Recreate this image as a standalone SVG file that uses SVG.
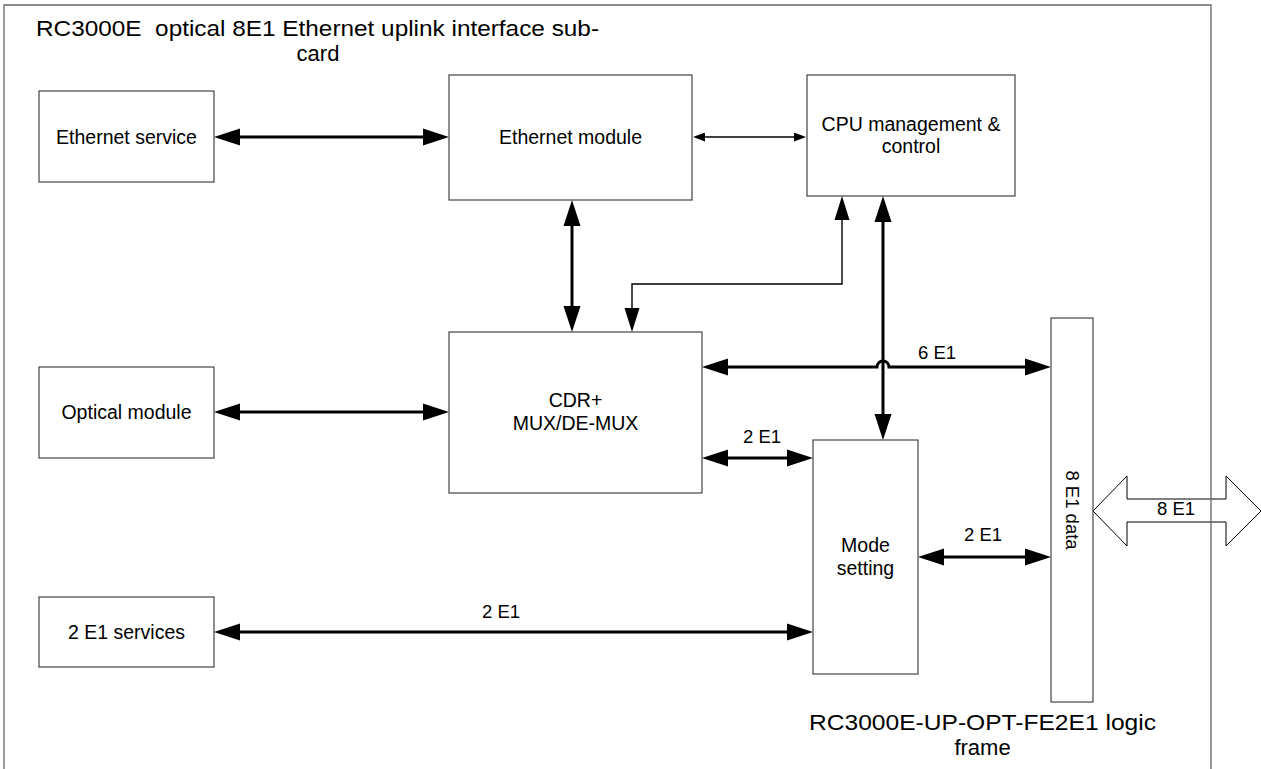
<svg xmlns="http://www.w3.org/2000/svg" width="1261" height="769" viewBox="0 0 1261 769">
<style>
.box{fill:#fff;stroke:#444;stroke-width:1.2}
.t{font-family:"Liberation Sans",Arial,sans-serif;font-size:19.5px;fill:#000;text-anchor:middle}
.big{font-family:"Liberation Sans",Arial,sans-serif;font-size:22px;fill:#000;text-anchor:middle}
.lbl{font-family:"Liberation Sans",Arial,sans-serif;font-size:18.5px;fill:#000;text-anchor:middle}
.thick{fill:none;stroke:#000;stroke-width:3}
.thin{fill:none;stroke:#000;stroke-width:1.4}
</style>
<defs>
<marker id="ah" markerUnits="userSpaceOnUse" markerWidth="26" markerHeight="18" refX="16" refY="8.5" orient="auto-start-reverse" viewBox="0 0 26 17"><path d="M0,0 L26,8.5 L0,17 z" fill="#000"/></marker>
<marker id="ahm" markerUnits="userSpaceOnUse" markerWidth="24" markerHeight="16" refX="18" refY="7.5" orient="auto-start-reverse" viewBox="0 0 24 15"><path d="M0,0 L24,7.5 L0,15 z" fill="#000"/></marker>
<marker id="ahs" markerUnits="userSpaceOnUse" markerWidth="12" markerHeight="9" refX="9" refY="4.5" orient="auto-start-reverse" viewBox="0 0 12 9"><path d="M0,0 L12,4.5 L0,9 z" fill="#000"/></marker>
</defs>
<rect width="1261" height="769" fill="#fff"/>

<g id="bigarrow">
<polygon points="1093,511 1127,476 1127,499 1226,499 1226,476 1261,511 1226,546 1226,522 1127,522 1127,546" fill="none" stroke="#000" stroke-width="1"/>
<text class="lbl" x="1176" y="515">8 E1</text>
</g>

<g id="frame">
<path d="M4,769 V5 H1211 V769" fill="none" stroke="#666" stroke-width="1.3"/>
<text class="big" x="317.5" y="36" xml:space="preserve" textLength="563" lengthAdjust="spacingAndGlyphs">RC3000E  optical 8E1 Ethernet uplink interface sub-</text>
<text class="big" x="318" y="61">card</text>
<text class="big" x="982.5" y="730" textLength="347" lengthAdjust="spacingAndGlyphs">RC3000E-UP-OPT-FE2E1 logic</text>
<text class="big" x="982.5" y="755">frame</text>
</g>

<g id="connectors">
<path class="thick" d="M224,137 H439" marker-start="url(#ah)" marker-end="url(#ah)"/>
<path class="thin" d="M696,137 H803" marker-start="url(#ahs)" marker-end="url(#ahs)"/>
<path class="thick" d="M572,210 V322" marker-start="url(#ah)" marker-end="url(#ah)"/>
<path class="thin" d="M632,326 V284 H842 V202" marker-start="url(#ahm)" marker-end="url(#ahm)"/>
<path class="thick" d="M883,206 V430" marker-start="url(#ah)" marker-end="url(#ah)"/>
<path class="thick" d="M712,367 H877 A6,6 0 0 1 889,367 H1041" marker-start="url(#ah)" marker-end="url(#ah)"/>
<path class="thick" d="M224,412 H439" marker-start="url(#ah)" marker-end="url(#ah)"/>
<path class="thick" d="M712,458 H803" marker-start="url(#ah)" marker-end="url(#ah)"/>
<path class="thick" d="M928,557 H1041" marker-start="url(#ah)" marker-end="url(#ah)"/>
<path class="thick" d="M224,632 H803" marker-start="url(#ah)" marker-end="url(#ah)"/>
<text class="lbl" x="937" y="359">6 E1</text>
<text class="lbl" x="762" y="443">2 E1</text>
<text class="lbl" x="983" y="541">2 E1</text>
<text class="lbl" x="501" y="618">2 E1</text>
</g>

<g id="ethernet-service">
<rect class="box" x="39" y="91" width="175" height="91"/>
<text class="t" x="126.5" y="144">Ethernet service</text>
</g>
<g id="ethernet-module">
<rect class="box" x="449" y="75" width="243" height="125"/>
<text class="t" x="570.5" y="144">Ethernet module</text>
</g>
<g id="cpu">
<rect class="box" x="807" y="75" width="208" height="121"/>
<text class="t" x="911" y="131">CPU management &amp;</text>
<text class="t" x="911" y="153">control</text>
</g>
<g id="optical-module">
<rect class="box" x="39" y="367" width="175" height="91"/>
<text class="t" x="126.5" y="419">Optical module</text>
</g>
<g id="cdr-mux">
<rect class="box" x="449" y="332" width="253" height="161"/>
<text class="t" x="575.5" y="407">CDR+</text>
<text class="t" x="575.5" y="430">MUX/DE-MUX</text>
</g>
<g id="e1-services">
<rect class="box" x="39" y="597" width="175" height="70"/>
<text class="t" x="126.5" y="639">2 E1 services</text>
</g>
<g id="mode-setting">
<rect class="box" x="813" y="440" width="105" height="234"/>
<text class="t" x="865.5" y="552">Mode</text>
<text class="t" x="865.5" y="575">setting</text>
</g>
<g id="e1-data">
<rect class="box" x="1051" y="318" width="42" height="384"/>
<text class="lbl" transform="translate(1066,510) rotate(90)" x="0" y="0">8 E1 data</text>
</g>
</svg>
